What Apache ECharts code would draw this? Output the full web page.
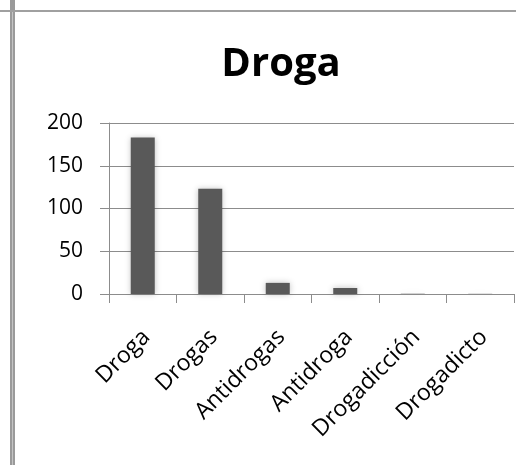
<!DOCTYPE html>
<html>
<head>
<meta charset="utf-8">
<script src="https://cdn.jsdelivr.net/npm/echarts@6/dist/echarts.min.js"></script>
<style>
html,body{margin:0;padding:0;background:#fff;}
#chart{width:516px;height:465px;}
</style>
</head>
<body>
<div id="chart"></div>
<script>
var categories = ['Droga', 'Drogas', 'Antidrogas', 'Antidroga', 'Drogadicción', 'Drogadicto'];
var values = [183, 123, 13, 7, 0.3, 0.2];
var yTicks = [0, 50, 100, 150, 200];

var chart = echarts.init(document.getElementById('chart'), null, {renderer: 'canvas'});
var font = '"Open Sans", "Noto Sans", sans-serif';
chart.setOption({
  animation: false,
  backgroundColor: '#ffffff',
  title: {
    text: 'Droga',
    left: 276,
    top: 40,
    textAlign: 'center',
    textStyle: {fontFamily: font, fontWeight: 'bold', fontSize: 40, color: '#000'}
  },
  graphic: [
    {type: 'rect', shape: {x: 10, y: 0, width: 5, height: 465}, style: {fill: '#9a9a9a'}, z: 100},
    {type: 'rect', shape: {x: 12, y: 12, width: 1, height: 453}, style: {fill: '#c4c4c4'}, z: 101},
    {type: 'rect', shape: {x: 0, y: 10, width: 516, height: 2}, style: {fill: '#a0a0a0'}, z: 100}
  ],
  grid: {left: 109, right: 2, top: 123, bottom: 171, containLabel: false},
  xAxis: {
    type: 'category',
    data: categories,
    axisLine: {lineStyle: {color: '#8c8c8c', width: 1}},
    axisTick: {show: true, length: 9, alignWithLabel: false, lineStyle: {color: '#8c8c8c'}},
    axisLabel: {rotate: 45, margin: 43, padding: [0, -5, 0, 0], fontFamily: font, fontSize: 23, color: '#000', interval: 0}
  },
  yAxis: {
    type: 'value',
    min: 0, max: 200, interval: 50,
    axisLine: {show: true, lineStyle: {color: '#8c8c8c'}},
    axisTick: {show: true, length: 9, lineStyle: {color: '#8c8c8c'}},
    splitLine: {lineStyle: {color: '#8c8c8c'}},
    axisLabel: {margin: 26, fontFamily: font, fontSize: 21, color: '#000'}
  },
  series: [{
    type: 'bar',
    data: values,
    barWidth: 24,
    itemStyle: {color: '#595959', shadowBlur: 6, shadowColor: 'rgba(0,0,0,0.25)'}
  }]
});
</script>
</body>
</html>
